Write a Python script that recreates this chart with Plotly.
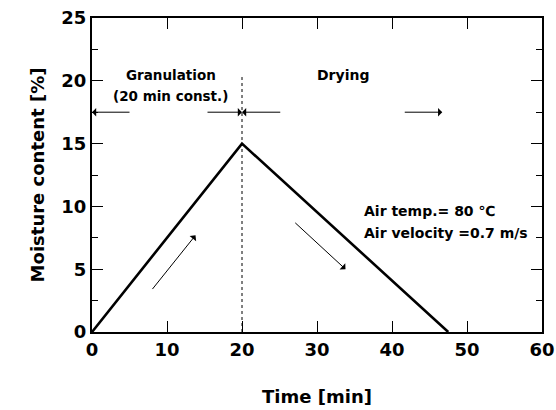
import plotly.graph_objects as go

# Moisture content profile during granulation and drying
time_min = [0, 20, 47.5]
moisture_pct = [0, 15, 0]

x_ticks = [0, 10, 20, 30, 40, 50, 60]
y_ticks = [0, 5, 10, 15, 20, 25]

granulation_end = 20
phase_arrow_y = 17.5

FONT = "DejaVu Sans, Arial, Helvetica, sans-serif"

fig = go.Figure()

# end of granulation marker
fig.add_trace(go.Scatter(
    x=[granulation_end, granulation_end], y=[0, 20.3], mode="lines",
    line=dict(color="black", width=1, dash="dot"), hoverinfo="skip", showlegend=False))

fig.add_trace(go.Scatter(
    x=time_min, y=moisture_pct, mode="lines",
    line=dict(color="black", width=2.6), showlegend=False))

annotations = []


def arrow(x0, y0, x1, y1, width=1.0):
    annotations.append(dict(
        x=x1, y=y1, ax=x0, ay=y0, xref="x", yref="y", axref="x", ayref="y",
        text="", showarrow=True, arrowhead=1, arrowsize=1.4, arrowwidth=width,
        arrowcolor="black"))


# phase span arrows
arrow(5.2, phase_arrow_y, 0, phase_arrow_y)
arrow(15.2, phase_arrow_y, granulation_end, phase_arrow_y)
arrow(25.3, phase_arrow_y, granulation_end, phase_arrow_y)
arrow(41.5, phase_arrow_y, 46.7, phase_arrow_y)

# direction arrows along the curve
arrow(7.9, 3.3, 13.8, 7.7)
arrow(26.9, 8.8, 33.8, 5.0)


def label(x, y, text, anchor="center", size=14):
    annotations.append(dict(
        x=x, y=y, xref="x", yref="y", text=text, showarrow=False,
        xanchor=anchor, yanchor="middle",
        font=dict(family=FONT, size=size, color="black", weight="bold")))


label(10.5, 20.5, "Granulation", size=13.5)
label(10.5, 18.8, "(20 min const.)", size=13.5)
label(33.4, 20.5, "Drying", size=14)
label(36.0, 9.6, "Air temp.= 80 ℃", anchor="left", size=14)
label(36.0, 7.9, "Air velocity =0.7 m/s", anchor="left", size=14)

axis_common = dict(
    showline=True, linecolor="black", linewidth=2, mirror="ticks",
    ticks="inside", ticklen=11, tickwidth=1.2, tickcolor="black",
    showgrid=False, zeroline=False, automargin=False,
    ticklabeloverflow="allow",
    tickfont=dict(family=FONT, size=18, color="black", weight="bold"),
)

fig.update_xaxes(
    range=[0, 60], tickvals=x_ticks,
    title=dict(text="Time [min]", standoff=32,
               font=dict(family=FONT, size=18, color="black", weight="bold")),
    **axis_common)
fig.update_yaxes(
    range=[0, 25], tickvals=y_ticks,
    minor=dict(dtick=2.5, ticks="inside", ticklen=6, tickwidth=1.2, tickcolor="black"),
    title=dict(text="Moisture content [%]", standoff=12,
               font=dict(family=FONT, size=18, color="black", weight="bold")),
    **axis_common)

fig.update_layout(
    width=556, height=410,
    margin=dict(l=92, r=14, t=18, b=78),
    plot_bgcolor="white", paper_bgcolor="white",
    annotations=annotations,
)

fig.write_html("out.html")
